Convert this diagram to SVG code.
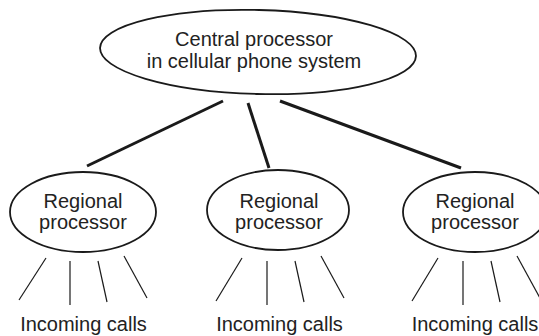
<svg xmlns="http://www.w3.org/2000/svg" width="539" height="336" viewBox="0 0 539 336">
<style>
.node ellipse{fill:#fff;stroke:#1a1a1a;stroke-width:1.8}
.t{font-family:"Liberation Sans",Arial,Helvetica,sans-serif;font-size:20px;fill:#222;text-anchor:middle}
.thick{stroke:#1a1a1a;stroke-width:3;stroke-linecap:butt;fill:none}
.thin{stroke:#1a1a1a;stroke-width:1.2;fill:none}
</style>
<rect width="539" height="336" fill="#fff"/>
<g id="connectors">
<line class="thick" x1="223" y1="101" x2="87" y2="166"/>
<line class="thick" x1="248" y1="103" x2="269" y2="168"/>
<line class="thick" x1="280" y1="101" x2="461" y2="168"/>
<line class="thin" x1="46" y1="258" x2="19" y2="300"/>
<line class="thin" x1="70" y1="261" x2="70" y2="305"/>
<line class="thin" x1="98" y1="261" x2="107" y2="302"/>
<line class="thin" x1="124" y1="256" x2="147" y2="298"/>
<line class="thin" x1="242" y1="258" x2="216" y2="301"/>
<line class="thin" x1="267" y1="261" x2="267" y2="305"/>
<line class="thin" x1="295" y1="261" x2="304" y2="302"/>
<line class="thin" x1="321" y1="256" x2="344" y2="298"/>
<line class="thin" x1="438" y1="258" x2="412" y2="301"/>
<line class="thin" x1="463" y1="261" x2="463" y2="305"/>
<line class="thin" x1="491" y1="261" x2="500" y2="302"/>
<line class="thin" x1="517" y1="256" x2="540" y2="298"/>
</g>
<g id="central" class="node">
<ellipse cx="258" cy="52" rx="158" ry="42" transform="rotate(1.5 258 52)"/>
<text class="t" x="254" y="46">Central processor</text>
<text class="t" x="254" y="68">in cellular phone system</text>
</g>
<g id="regional1" class="node">
<ellipse cx="83" cy="212" rx="73" ry="40"/>
<text class="t" x="83" y="208">Regional</text>
<text class="t" x="83" y="229">processor</text>
</g>
<g id="regional2" class="node">
<ellipse cx="278" cy="210" rx="71" ry="40"/>
<text class="t" x="279" y="208">Regional</text>
<text class="t" x="279" y="229">processor</text>
</g>
<g id="regional3" class="node">
<ellipse cx="475" cy="212" rx="72" ry="40"/>
<text class="t" x="475" y="208">Regional</text>
<text class="t" x="475" y="229">processor</text>
</g>
<g id="calls1"><text class="t" x="83.5" y="331">Incoming calls</text></g>
<g id="calls2"><text class="t" x="279.5" y="331">Incoming calls</text></g>
<g id="calls3"><text class="t" x="475" y="331">Incoming calls</text></g>
</svg>
